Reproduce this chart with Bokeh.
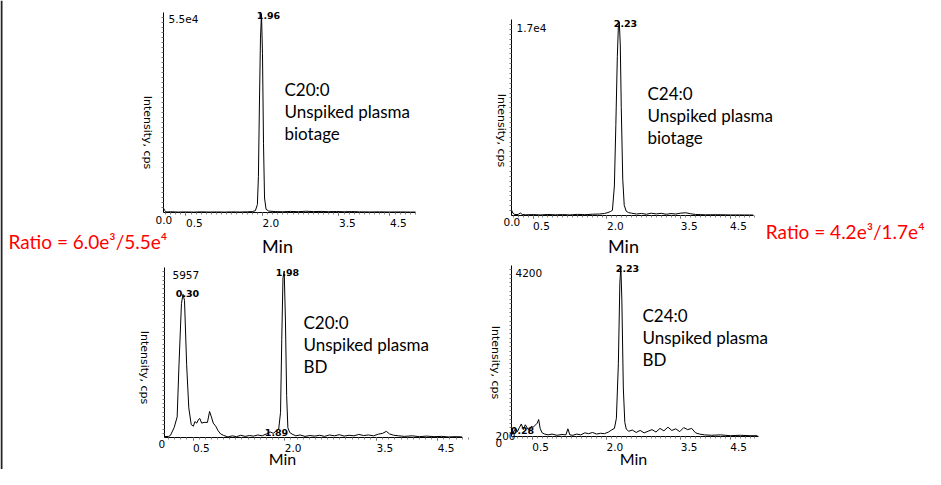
import numpy as np
from math import pi
from bokeh.plotting import figure
from bokeh.models import Range1d, Label, FixedTicker, LinearAxis, Span
from bokeh.embed import file_html
from bokeh.resources import INLINE

# ---------------- data ----------------
X_TICKS = [0.5, 2.0, 3.5, 4.5]
X_TICK_LABELS = ["0.5", "2.0", "3.5", "4.5"]

# Panel A: C20:0, unspiked plasma, biotage (max 5.5e4)
A_TIME = [0.06, 0.08, 0.11, 0.20, 0.35, 0.50, 0.65, 0.80, 0.95, 1.10, 1.25, 1.40, 1.55, 1.70, 1.80,
          1.86, 1.90, 1.92, 1.94, 1.96, 1.98, 2.00, 2.02, 2.04, 2.07, 2.12, 2.25, 2.40, 2.55, 2.70,
          2.85, 3.00, 3.15, 3.30, 3.45, 3.60, 3.75, 3.90, 4.10, 4.30, 4.50, 4.70, 4.90, 5.00]
A_INT = [1200, 600, 150, 200, 120, 150, 100, 180, 120, 150, 110, 160, 130, 180, 250,
         500, 2200, 10000, 30000, 48000, 55000, 44000, 19000, 4000, 900, 400, 250, 200, 300, 220,
         350, 250, 300, 220, 280, 200, 260, 180, 150, 170, 130, 150, 120, 120]

# Panel B: C24:0, unspiked plasma, biotage (max 1.7e4)
B_TIME = [0.06, 0.09, 0.13, 0.20, 0.24, 0.28, 0.35, 0.50, 0.65, 0.80, 0.95, 1.10, 1.25, 1.40, 1.55,
          1.70, 1.85, 1.95, 2.02, 2.07, 2.11, 2.15, 2.18, 2.21, 2.23, 2.25, 2.27, 2.29, 2.32, 2.35,
          2.39, 2.44, 2.50, 2.60, 2.70, 2.80, 2.90, 3.00, 3.10, 3.20, 3.30, 3.40, 3.50, 3.60, 3.70,
          3.80, 4.00, 4.25, 4.50, 4.75, 4.97]
B_INT = [500, 200, 80, 100, 220, 90, 60, 80, 50, 90, 60, 80, 50, 100, 70,
         110, 130, 180, 260, 350, 450, 2600, 8000, 14000, 16500, 17000, 15000, 9500, 3200, 900,
         380, 250, 200, 130, 180, 110, 200, 140, 190, 110, 170, 130, 210, 240, 150,
         90, 60, 70, 50, 50, 40]

# Panel C: C20:0, unspiked plasma, BD (max 5957)
C_TIME = [0.04, 0.10, 0.13, 0.19, 0.24, 0.27, 0.31, 0.335, 0.36, 0.395, 0.43, 0.47, 0.505, 0.53, 0.56,
          0.59, 0.61, 0.64, 0.68, 0.735, 0.77, 0.80, 0.83, 0.87, 0.91, 0.95, 1.00, 1.07, 1.14, 1.21,
          1.28, 1.35, 1.42, 1.49, 1.56, 1.63, 1.70, 1.76, 1.81, 1.86, 1.90, 1.93, 1.95, 1.97, 1.99,
          2.01, 2.03, 2.05, 2.08, 2.12, 2.18, 2.25, 2.33, 2.41, 2.49, 2.57, 2.65, 2.73, 2.81, 2.89,
          2.97, 3.05, 3.13, 3.21, 3.29, 3.37, 3.45, 3.53, 3.60, 3.66, 3.71, 3.78, 3.86, 3.96, 4.08,
          4.20, 4.32, 4.44, 4.56, 4.68, 4.80, 4.90]
C_INT = [30, 40, 75, 350, 735, 2600, 4790, 5120, 4900, 2600, 1060, 460, 405, 570, 515,
         650, 680, 515, 540, 540, 930, 735, 515, 405, 240, 130, 75, 20, 60, 30,
         80, 40, 70, 50, 90, 60, 130, 200, 150, 230, 300, 900, 3500, 5700, 5957,
         4200, 1500, 350, 180, 120, 60, 90, 40, 70, 50, 80, 40, 90, 60, 100,
         50, 80, 60, 110, 70, 90, 60, 120, 150, 220, 130, 80, 60, 40, 60,
         30, 50, 30, 40, 20, 30, 20]

# Panel D: C24:0, unspiked plasma, BD (max 4200)
D_TIME = [0.08, 0.12, 0.16, 0.20, 0.24, 0.28, 0.32, 0.36, 0.40, 0.44, 0.48, 0.52, 0.56, 0.60, 0.63,
          0.66, 0.70, 0.75, 0.82, 0.90, 1.00, 1.10, 1.18, 1.22, 1.26, 1.32, 1.40, 1.48, 1.56, 1.64,
          1.72, 1.80, 1.88, 1.96, 2.04, 2.10, 2.16, 2.20, 2.24, 2.27, 2.29, 2.31, 2.34, 2.37, 2.40,
          2.45, 2.52, 2.60, 2.68, 2.76, 2.84, 2.92, 3.00, 3.08, 3.16, 3.24, 3.32, 3.40, 3.48, 3.56,
          3.64, 3.72, 3.80, 3.88, 3.98, 4.12, 4.30, 4.50, 4.70, 4.90, 5.05]
D_INT = [30, 110, 190, 120, 220, 310, 170, 290, 210, 140, 250, 230, 280, 330, 420,
         200, 90, 60, 40, 60, 30, 50, 40, 190, 40, 30, 60, 40, 90, 70,
         100, 60, 80, 70, 110, 160, 200, 450, 1800, 3800, 4200, 3400, 1200, 350, 180,
         130, 160, 100, 150, 90, 130, 170, 110, 200, 140, 230, 150, 190, 120, 220,
         170, 200, 90, 60, 40, 30, 40, 20, 30, 20, 20]

A_TEXT = ["C20:0", "Unspiked plasma", "biotage"]
B_TEXT = ["C24:0", "Unspiked plasma", "biotage"]
C_TEXT = ["C20:0", "Unspiked plasma", "BD"]
D_TEXT = ["C24:0", "Unspiked plasma", "BD"]
RATIO_LEFT = "Ratio = 6.0e\u00b3/5.5e\u2074"
RATIO_RIGHT = "Ratio = 4.2e\u00b3/1.7e\u2074"

SMALL = "DejaVu Sans"
BIG = "Lato"
W, H = 925, 469

# one canvas; default ranges are canvas pixels (y downwards)
p = figure(width=W, height=H, x_range=Range1d(0, W), y_range=Range1d(H, 0),
           x_axis_type=None, y_axis_type=None, min_border=0,
           output_backend="svg", toolbar_location=None, tools="")
p.outline_line_color = None
p.grid.visible = False
p.background_fill_color = "white"
p.border_fill_color = "white"
p.add_layout(Span(location=1, dimension="height", line_color="#222222", line_width=2))


def lab(px, py, text, size=10.5, font=SMALL, bold=False, align="left", color="black", angle=0.0,
        x_range_name="default"):
    p.add_layout(Label(x=px, y=py, text=text, text_font=font, text_font_size=f"{size}px",
                       text_font_style="bold" if bold else "normal", text_align=align,
                       text_baseline="middle", text_color=color, angle=angle,
                       x_range_name=x_range_name))


def panel(name, fl, ft, fr, fb, xr, yr, t, y, lines, tx, ty, tick_y):
    x0, x1 = xr
    y0, y1 = yr
    sx = (x1 - x0) / (fr - fl)
    sy = (y1 - y0) / (fb - ft)
    p.extra_x_ranges[name] = Range1d(x0 - fl * sx, x0 + (W - fl) * sx)
    p.extra_y_ranges[name] = Range1d(y0 - (H - fb) * sy, y1 + ft * sy)
    p.line(t, y, line_color="black", line_width=1, x_range_name=name, y_range_name=name)

    xa = LinearAxis(x_range_name=name, y_range_name=name, fixed_location=y0, bounds=(x0, x1),
                    ticker=FixedTicker(ticks=X_TICKS,
                                       minor_ticks=[round(v, 2) for v in np.arange(0.1, 5.1, 0.1)]),
                    major_label_overrides={v: "" for v in X_TICKS})
    xa.axis_line_color = "black"
    xa.major_tick_out = 3
    xa.major_tick_in = 0
    xa.major_tick_line_color = "#444444"
    xa.minor_tick_out = 2
    xa.minor_tick_in = 0
    xa.minor_tick_line_color = "#888888"
    p.add_layout(xa, "below")
    # tick labels start at their tick, as in the reference
    for v, s in zip(X_TICKS, X_TICK_LABELS):
        lab(v, tick_y, s, x_range_name=name)

    ya = LinearAxis(x_range_name=name, y_range_name=name, fixed_location=x0, bounds=(y0, y1),
                    ticker=FixedTicker(ticks=[], minor_ticks=list(np.linspace(y0, y1, 41)[1:-1])))
    ya.axis_line_color = "black"
    ya.major_tick_line_color = None
    ya.minor_tick_out = 2
    ya.minor_tick_in = 0
    ya.minor_tick_line_color = "#777777"
    ya.major_label_text_font_size = "0px"
    p.add_layout(ya, "left")

    for i, s in enumerate(lines):
        lab(tx, ty + i * 22, s, size=17, font=BIG)


# ---- top-left ----
panel("A", 163, 12, 415, 212, (0.059, 5.0), (0, 55300), A_TIME, A_INT, A_TEXT, 284, 89, 222)
lab(155, 219, "0.0")
lab(168, 18, "5.5e4")
lab(268, 15, "1.96", size=9.5, bold=True, align="center")
lab(147, 132, "Intensity, cps", size=11, align="center", angle=-pi / 2)
lab(277, 245, "Min", size=18, font=BIG, align="center")
lab(8, 241, RATIO_LEFT, size=19, font=BIG, color="#ff0000")

# ---- top-right ----
panel("B", 511, 19, 753, 215, (0.061, 4.975), (0, 17240), B_TIME, B_INT, B_TEXT, 647, 93, 225)
lab(503, 221, "0.0")
lab(516, 27, "1.7e4")
lab(625, 23, "2.23", size=9.5, bold=True, align="center")
lab(501, 130, "Intensity, cps", size=11, align="center", angle=-pi / 2)
lab(623, 245, "Min", size=18, font=BIG, align="center")
lab(924, 231, RATIO_RIGHT, size=19, font=BIG, color="#ff0000", align="right")

# ---- bottom-left ----
panel("C", 164, 267, 462, 437, (0.033, 4.905), (0, 6080), C_TIME, C_INT, C_TEXT, 303, 322, 447)
lab(158, 443, "0")
lab(172, 274, "5957")
lab(287, 272, "1.98", size=9.5, bold=True, align="center")
lab(187, 293, "0.30", size=9.5, bold=True, align="center")
lab(276, 432, "1.89", size=9.5, bold=True, align="center")
lab(144, 367, "Intensity, cps", size=11, align="center", angle=-pi / 2)
lab(282, 458, "Min", size=16, font=BIG, align="center")

# ---- bottom-right ----
panel("D", 511, 265, 758, 436, (0.081, 5.071), (0, 4230), D_TIME, D_INT, D_TEXT, 642, 315, 446)
lab(495, 435, "200")
lab(495, 442, "0")
lab(515, 272, "4200")
lab(627, 268, "2.23", size=9.5, bold=True, align="center")
lab(522, 430, "0.28", size=9.5, bold=True, align="center")
lab(495, 362, "Intensity, cps", size=11, align="center", angle=-pi / 2)
lab(633, 458, "Min", size=16, font=BIG, align="center")

open("out.html", "w").write(file_html(p, INLINE))
